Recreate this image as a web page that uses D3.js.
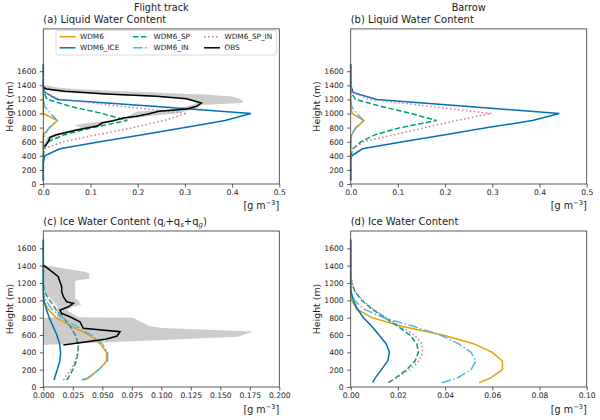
<html>
<head>
<script src="https://d3js.org/d3.v7.min.js"></script>
<style>
  body { margin: 0; background: #fff; }
  text { font-family: "DejaVu Sans", sans-serif; fill: #1a1a1a; }
  .axis text { font-size: 7.6px; }
  .axis path, .axis line { stroke: #333; stroke-width: 0.8; }
</style>
</head>
<body>
<svg id="fig" width="600" height="420"></svg>
<script>
// model levels (m)
const levels = [50, 100, 200, 300, 400, 500, 600, 700, 800, 900, 1000, 1100, 1200, 1300, 1400, 1500, 1600, 1700];
const levelsIceFlight = [80, 100, 200, 300, 400, 500, 600, 700, 800, 900, 1000, 1100, 1200, 1300, 1400, 1500, 1600, 1700];

const names = ["WDM6", "WDM6_ICE", "WDM6_SP", "WDM6_IN", "WDM6_SP_IN"];
const colors = ["#E69F00", "#0072B2", "#009E73", "#56B4E9", "#CC79A7"];
const dashes = [null, null, "5.5,2.4", "9.6,2.4,1.5,2.4", "1.5,2.5"];

// (a) liquid water, flight track
const aWDM6       = [0, 0, 0, 0, 0, 0, 0, 0, 0.014, 0.03, 0, 0, 0, 0, 0, 0, 0, 0];
const aWDM6_ICE   = [0, 0, 0, 0, 0.003, 0.035, 0.12, 0.21, 0.3, 0.385, 0.44, 0.24, 0.03, 0.003, 0, 0, 0, 0];
const aWDM6_SP    = [0, 0, 0, 0, 0, 0.002, 0.01, 0.045, 0.104, 0.178, 0.125, 0.058, 0.008, 0.001, 0, 0, 0, 0];
const aWDM6_IN    = [0, 0, 0, 0, 0, 0, 0, 0.004, 0.012, 0.029, 0.016, 0.003, 0, 0, 0, 0, 0, 0];
const aWDM6_SP_IN = [0, 0, 0, 0, 0, 0.002, 0.042, 0.115, 0.19, 0.255, 0.304, 0.17, 0.035, 0.003, 0, 0, 0, 0];

const obsAH = [1371, 1348, 1315, 1277, 1244, 1210, 1149, 1102, 1064, 1031, 993, 960, 936, 898, 865, 827, 794, 756, 699, 662, 606, 557, 535];
const obsA  = [0, 0.007, 0.046, 0.134, 0.24, 0.304, 0.335, 0.325, 0.304, 0.245, 0.222, 0.198, 0.169, 0.148, 0.124, 0.116, 0.092, 0.064, 0.028, 0.014, 0.011, 0.006, 0.002];

const bandAH  = [1405, 1370, 1340, 1300, 1270, 1240, 1210, 1170, 1150, 1120, 1100, 1060, 1030, 1000, 960, 930, 900, 870, 840, 830, 800, 760, 700, 660, 600, 560, 530];
const bandALo = [0, 0, 0.003, 0.035, 0.12, 0.22, 0.29, 0.32, 0.325, 0.315, 0.3, 0.28, 0.2, 0.19, 0.18, 0.16, 0.14, 0.1, 0.07, 0.066, 0.08, 0.055, 0.02, 0.008, 0.004, 0.001, 0];
const bandAHi = [0, 0.03, 0.08, 0.22, 0.34, 0.4, 0.416, 0.424, 0.42, 0.33, 0.33, 0.32, 0.3, 0.28, 0.22, 0.185, 0.16, 0.135, 0.125, 0.12, 0.1, 0.075, 0.038, 0.022, 0.015, 0.008, 0.003];

// (b) liquid water, Barrow
const bWDM6       = [0, 0, 0, 0, 0, 0, 0, 0.002, 0.012, 0.028, 0.003, 0, 0, 0, 0, 0, 0, 0];
const bWDM6_ICE   = [0, 0, 0, 0, 0.002, 0.025, 0.11, 0.2, 0.29, 0.385, 0.442, 0.25, 0.055, 0.005, 0, 0, 0, 0];
const bWDM6_SP    = [0, 0, 0, 0, 0, 0.005, 0.022, 0.052, 0.105, 0.182, 0.128, 0.065, 0.01, 0.001, 0, 0, 0, 0];
const bWDM6_IN    = [0, 0, 0, 0, 0, 0, 0, 0.002, 0.01, 0.027, 0.013, 0.002, 0, 0, 0, 0, 0, 0];
const bWDM6_SP_IN = [0, 0, 0, 0, 0, 0.004, 0.028, 0.093, 0.158, 0.224, 0.298, 0.17, 0.04, 0.004, 0, 0, 0, 0];

// (c) ice water, flight track
const cWDM6       = [0.034, 0.038, 0.047, 0.0537, 0.0535, 0.048, 0.039, 0.024, 0.011, 0.004, 0, 0, 0, 0, 0, 0, 0, 0];
const cWDM6_ICE   = [0.009, 0.0095, 0.0118, 0.014, 0.0147, 0.0138, 0.0115, 0.0082, 0.005, 0.0025, 0.0005, 0, 0, 0, 0, 0, 0, 0];
const cWDM6_SP    = [0.0198, 0.021, 0.025, 0.028, 0.0296, 0.0295, 0.027, 0.0228, 0.017, 0.0105, 0.0055, 0.0008, 0, 0, 0, 0, 0, 0];
const cWDM6_IN    = [0.0325, 0.037, 0.047, 0.0545, 0.0545, 0.05, 0.041, 0.028, 0.016, 0.007, 0.002, 0, 0, 0, 0, 0, 0, 0];
const cWDM6_SP_IN = [0.017, 0.018, 0.023, 0.027, 0.0292, 0.0296, 0.0275, 0.0228, 0.0172, 0.0105, 0.0055, 0.001, 0, 0, 0, 0, 0, 0];

const obsCH = [1407, 1349, 1272, 1215, 1157, 1099, 1041, 984, 965, 926, 888, 850, 811, 753, 715, 677, 638, 588, 554, 484];
const obsC  = [0, 0.0057, 0.0127, 0.0141, 0.0156, 0.0156, 0.017, 0.0198, 0.0254, 0.0212, 0.0141, 0.0156, 0.0226, 0.031, 0.0325, 0.0339, 0.065, 0.0625, 0.0537, 0.017];

const bandCH  = [1405, 1330, 1310, 1253, 1227, 1150, 1120, 1023, 990, 946, 926, 888, 850, 805, 800, 700, 680, 640, 580, 485];
const bandCLo = [0, 0, 0, 0, 0, 0, 0, 0.006, 0.008, 0.011, 0.012, 0.012, 0.011, 0.012, 0, 0, 0, 0, 0, 0];
const bandCHi = [0.001, 0.035, 0.039, 0.039, 0.027, 0.027, 0.027, 0.027, 0.03, 0.032, 0.025, 0.02, 0.024, 0.03, 0.076, 0.09, 0.1, 0.178, 0.165, 0];

// (d) ice water, Barrow
const dWDM6       = [0.0544, 0.059, 0.0643, 0.0643, 0.06, 0.052, 0.039, 0.0216, 0.009, 0.0025, 0.0004, 0, 0, 0, 0, 0, 0, 0];
const dWDM6_ICE   = [0.0093, 0.0103, 0.013, 0.0157, 0.0164, 0.015, 0.012, 0.0089, 0.0054, 0.0028, 0.0011, 0.0002, 0, 0, 0, 0, 0, 0];
const dWDM6_SP    = [0.016, 0.0188, 0.0237, 0.0273, 0.0287, 0.028, 0.025, 0.02, 0.0145, 0.009, 0.0047, 0.0018, 0.0004, 0, 0, 0, 0, 0];
const dWDM6_IN    = [0.0386, 0.045, 0.051, 0.053, 0.051, 0.0456, 0.038, 0.0266, 0.0138, 0.0054, 0.0016, 0.0003, 0, 0, 0, 0, 0, 0];
const dWDM6_SP_IN = [0.016, 0.019, 0.025, 0.029, 0.0305, 0.0302, 0.027, 0.021, 0.015, 0.0095, 0.005, 0.002, 0.0006, 0.0001, 0, 0, 0, 0];

const yTicks = [0, 200, 400, 600, 800, 1000, 1200, 1400, 1600];

svg = d3.select("svg#fig");

const panels = [
  { left: 43.3, top: 28.9, bottom: 184, xMax: 0.5, xTicks: [0, 0.1, 0.2, 0.3, 0.4, 0.5], fmt: ".1f",
    yMax: 2200, levels: levels, models: [aWDM6, aWDM6_ICE, aWDM6_SP, aWDM6_IN, aWDM6_SP_IN],
    obsH: obsAH, obs: obsA, bandH: bandAH, bandLo: bandALo, bandHi: bandAHi,
    title: [["(a) Liquid Water Content"]], header: "Flight track", legend: true, unitY: 208.5 },
  { left: 350.7, top: 28.9, bottom: 184, xMax: 0.5, xTicks: [0, 0.1, 0.2, 0.3, 0.4, 0.5], fmt: ".1f",
    yMax: 2200, levels: levels, models: [bWDM6, bWDM6_ICE, bWDM6_SP, bWDM6_IN, bWDM6_SP_IN],
    title: [["(b) Liquid Water Content"]], header: "Barrow", unitY: 208.5 },
  { left: 43.3, top: 231, bottom: 387, xMax: 0.2, xTicks: [0, 0.025, 0.05, 0.075, 0.1, 0.125, 0.15, 0.175, 0.2], fmt: ".3f",
    yMax: 1800, levels: levelsIceFlight, models: [cWDM6, cWDM6_ICE, cWDM6_SP, cWDM6_IN, cWDM6_SP_IN],
    obsH: obsCH, obs: obsC, bandH: bandCH, bandLo: bandCLo, bandHi: bandCHi,
    title: [["(c) Ice Water Content (q"], ["i", "sub"], ["+q"], ["s", "sub"], ["+q"], ["g", "sub"], [")"]], unitY: 412.5 },
  { left: 350.7, top: 231, bottom: 387, xMax: 0.1, xTicks: [0, 0.02, 0.04, 0.06, 0.08, 0.1], fmt: ".2f",
    yMax: 1800, levels: levels, models: [dWDM6, dWDM6_ICE, dWDM6_SP, dWDM6_IN, dWDM6_SP_IN],
    title: [["(d) Ice Water Content"]], unitY: 412.5 }
];

const W = 236;

panels.forEach((p) => {
  let x = d3.scaleLinear().domain([0, p.xMax]).range([p.left, p.left + W]);
  let y = d3.scaleLinear().domain([0, p.yMax]).range([p.bottom, p.top]);
  let g = svg.append("g");

  // obs min/max band
  if (p.bandH) {
    let area = d3.area().y((d) => y(d[0])).x0((d) => x(d[1])).x1((d) => x(d[2]));
    g.append("path")
      .attr("d", area(d3.zip(p.bandH, p.bandLo, p.bandHi)))
      .attr("fill", "#808080")
      .attr("fill-opacity", 0.4)
      .attr("stroke", "none");
  }

  let line = d3.line().x((d) => x(d[1])).y((d) => y(d[0]));

  p.models.forEach((vals, i) => {
    g.append("path")
      .attr("d", line(d3.zip(p.levels, vals)))
      .attr("fill", "none")
      .attr("stroke", colors[i])
      .attr("stroke-width", 1.5)
      .attr("stroke-dasharray", dashes[i]);
  });

  if (p.obs) {
    g.append("path")
      .attr("d", line(d3.zip(p.obsH, p.obs)))
      .attr("fill", "none")
      .attr("stroke", "#000")
      .attr("stroke-width", 1.5);
  }

  // axes
  g.append("g")
    .attr("class", "axis")
    .attr("transform", `translate(0,${p.bottom})`)
    .call(d3.axisBottom(x).tickValues(p.xTicks).tickFormat(d3.format(p.fmt)).tickSize(3.5).tickPadding(2.5))
    .call((a) => a.select(".domain").remove());

  g.append("g")
    .attr("class", "axis")
    .attr("transform", `translate(${p.left},0)`)
    .call(d3.axisLeft(y).tickValues(yTicks).tickFormat(d3.format("d")).tickSize(3.5).tickPadding(3.5))
    .call((a) => a.select(".domain").remove());

  // frame
  g.append("rect")
    .attr("x", p.left)
    .attr("y", p.top)
    .attr("width", W)
    .attr("height", p.bottom - p.top)
    .attr("fill", "none")
    .attr("stroke", "#333")
    .attr("stroke-width", 0.8);

  // labels
  g.append("text")
    .attr("transform", `translate(${p.left - 34},${(p.top + p.bottom) / 2}) rotate(-90)`)
    .attr("text-anchor", "middle")
    .attr("dy", "0.35em")
    .style("font-size", "9.4px")
    .text("Height (m)");

  let unit = g.append("text")
    .attr("x", p.left + W)
    .attr("y", p.unitY)
    .attr("text-anchor", "end")
    .style("font-size", "9.6px");
  unit.append("tspan").text("[g m");
  unit.append("tspan").attr("dy", -3.5).style("font-size", "6.7px").text("\u22123");
  unit.append("tspan").attr("dy", 3.5).text("]");

  let title = g.append("text")
    .attr("x", p.left)
    .attr("y", p.top - 5.9)
    .style("font-size", "10px");
  p.title.forEach((part) => {
    let t = title.append("tspan").text(part[0]);
    if (part[1] === "sub") t.attr("dy", 2).style("font-size", "7px").style("font-style", "italic");
    else if (title.selectAll("tspan").size() > 1) t.attr("dy", -2);
  });

  if (p.header) {
    g.append("text")
      .attr("x", p.left + W / 2)
      .attr("y", 11.2)
      .attr("text-anchor", "middle")
      .style("font-size", "9.7px")
      .text(p.header);
  }

  if (p.legend) {
    let lg = g.append("g");
    lg.append("rect")
      .attr("x", 56).attr("y", 30.5).attr("width", 220.5).attr("height", 24.5)
      .attr("rx", 2).attr("fill", "#fff").attr("fill-opacity", 0.8)
      .attr("stroke", "#d0d0d0").attr("stroke-width", 0.8);
    let entries = [
      { name: names[0], color: colors[0], dash: dashes[0], col: 0, row: 0 },
      { name: names[1], color: colors[1], dash: dashes[1], col: 0, row: 1 },
      { name: names[2], color: colors[2], dash: dashes[2], col: 1, row: 0 },
      { name: names[3], color: colors[3], dash: dashes[3], col: 1, row: 1 },
      { name: names[4], color: colors[4], dash: dashes[4], col: 2, row: 0 },
      { name: "OBS", color: "#000", dash: null, col: 2, row: 1 }
    ];
    let colX = [59.5, 133, 204];
    let rowY = [36.8, 47.8];
    entries.forEach((e) => {
      lg.append("line")
        .attr("x1", colX[e.col]).attr("x2", colX[e.col] + 16)
        .attr("y1", rowY[e.row]).attr("y2", rowY[e.row])
        .attr("stroke", e.color).attr("stroke-width", 1.5)
        .attr("stroke-dasharray", e.dash);
      lg.append("text")
        .attr("x", colX[e.col] + 20.5).attr("y", rowY[e.row])
        .attr("dy", "0.35em")
        .style("font-size", "7.3px")
        .text(e.name);
    });
  }
});
</script>
</body>
</html>
